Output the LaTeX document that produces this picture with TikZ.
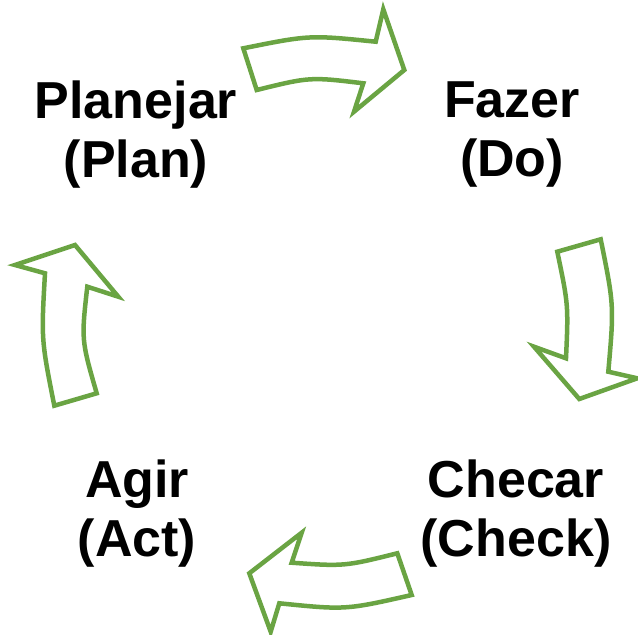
\documentclass[tikz,border=0pt]{standalone}
\usepackage{fontspec}
\setmainfont{Liberation Sans}
\definecolor{pdcagreen}{HTML}{6AA443}
\begin{document}
\begin{tikzpicture}[x=1pt,y=-1pt,
  cyclearrow/.style={draw=pdcagreen,line width=4.5pt,line join=miter,fill=white},
  phase/.style={align=center,font=\fontsize{52}{59}\selectfont\bfseries,inner sep=0pt}]
\useasboundingbox (0,0) rectangle (638,635);
% arrows
\draw[cyclearrow] (243.3,48.3) .. controls (309.5,35) .. (375.7,41.7) -- (383.3,9.3) -- (404.3,70) -- (354,111.7) -- (363.3,83.3) .. controls (310,76.9) .. (256.7,90) -- cycle;
\draw[cyclearrow] (557.3,251.7) -- (600.7,239.3) .. controls (614.1,305.5) .. (608.3,371.7) -- (637.3,378.3) -- (579.3,399) -- (534,346.7) -- (566,358.3) .. controls (568.4,305) .. (557.3,251.7) -- cycle;
\draw[cyclearrow] (397.3,553.3) .. controls (344.5,566.4) .. (291.7,562.7) -- (301.7,532.7) -- (249.3,573.3) -- (270.7,631.7) -- (279.3,603.3) .. controls (345.5,610) .. (411.7,595) -- cycle;
\draw[cyclearrow] (54.3,405.7) -- (96.7,393.3) .. controls (81.3,340) .. (87.3,286.7) -- (118.3,296.7) -- (75,245) -- (15,265) -- (45,273.3) .. controls (41.2,339.5) .. (54.3,405.7) -- cycle;
% labels
\node[phase] (plan) at (136,135) {Planejar\\(Plan)};
\node[phase] (do) at (512,135) {Fazer\\(Do)};
\node[phase] (check) at (516,514) {Checar\\(Check)};
\node[phase] (act) at (137,514) {Agir\\(Act)};
\end{tikzpicture}
\end{document}
